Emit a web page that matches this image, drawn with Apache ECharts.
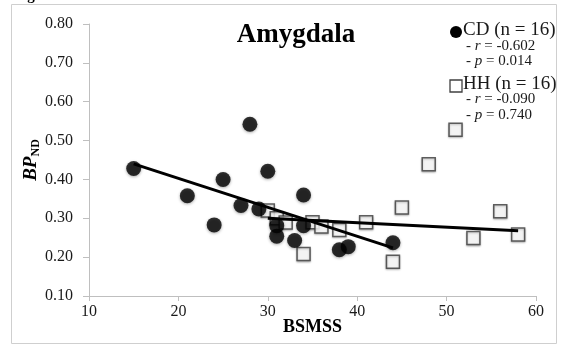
<!DOCTYPE html>
<html>
<head>
<meta charset="utf-8">
<script src="https://cdn.jsdelivr.net/npm/echarts@6/dist/echarts.min.js"></script>
<style>
  html, body { margin: 0; padding: 0; background: #fff; }
  #chart { width: 563px; height: 352px; }
</style>
</head>
<body>
<div id="chart"></div>
<script>
// CD group (filled circles): [BSMSS, BPnd]
var cdPoints = [
    [15, 0.428], [21, 0.358], [24, 0.283], [25, 0.40], [27, 0.333], [28, 0.542],
    [29, 0.324], [30, 0.421], [31, 0.281], [31, 0.254], [33, 0.243], [34, 0.36],
    [34, 0.281], [38, 0.219], [39, 0.227], [44, 0.237]
];
// HH group (open squares)
var hhPoints = [
    [30, 0.32], [31, 0.30], [32, 0.289], [34, 0.208], [35, 0.29], [36, 0.279],
    [38, 0.27], [41, 0.29], [44, 0.188], [45, 0.328], [48, 0.439], [51, 0.528],
    [53, 0.249], [56, 0.318], [58, 0.258]
];
// trend line ends
var cdTrend = [[15, 0.44], [44, 0.224]];
var hhTrend = [[30, 0.30], [58, 0.268]];

var xTicks = [10, 20, 30, 40, 50, 60];
var yTicks = [0.10, 0.20, 0.30, 0.40, 0.50, 0.60, 0.70, 0.80];

var cdStats = ['- {i|r} = -0.602', '- {i|p} = 0.014'];
var hhStats = ['- {i|r} = -0.090', '- {i|p} = 0.740'];

var serif = '"Liberation Serif", "DejaVu Serif", serif';
var axisGray = '#bfbfbf';
var textCol = '#1a1a1a';

var chart = echarts.init(document.getElementById('chart'));

function statText(str, top) {
    return {
        type: 'text', left: 466, top: top,
        style: {
            text: str, fontFamily: serif, fontSize: 15, fill: textCol,
            rich: { i: { fontStyle: 'italic', fontFamily: serif, fontSize: 15, fill: textCol } }
        }
    };
}

var option = {
    backgroundColor: '#fff',
    animation: false,
    title: {
        text: 'Amygdala',
        left: 291, top: 17, textAlign: 'center',
        textStyle: { fontFamily: serif, fontWeight: 'bold', fontSize: 27, color: '#000' }
    },
    grid: { left: 89, right: 27, top: 24, bottom: 56 },
    xAxis: {
        type: 'value', min: xTicks[0], max: xTicks[xTicks.length - 1], interval: 10,
        name: 'BSMSS', nameLocation: 'middle', nameGap: 22, nameMoveOverlap: false,
        nameTextStyle: { fontFamily: serif, fontWeight: 'bold', fontSize: 18, color: '#000' },
        axisLine: { show: true, lineStyle: { color: axisGray } },
        axisTick: { show: true, length: 5, lineStyle: { color: axisGray } },
        axisLabel: { fontFamily: serif, fontSize: 16, color: textCol, margin: 8 },
        splitLine: { show: false }
    },
    yAxis: {
        type: 'value', min: yTicks[0], max: yTicks[yTicks.length - 1], interval: 0.1,
        name: '{a|BP}{b|ND}', nameLocation: 'middle', nameGap: 47, nameMoveOverlap: false,
        nameTextStyle: {
            rich: {
                a: { fontFamily: serif, fontStyle: 'italic', fontWeight: 'bold', fontSize: 19, color: '#000' },
                b: { fontFamily: serif, fontWeight: 'bold', fontSize: 12, color: '#000', padding: [9, 0, 0, 0] }
            }
        },
        axisLine: { show: true, lineStyle: { color: axisGray } },
        axisTick: { show: true, inside: false, length: 6, lineStyle: { color: axisGray } },
        axisLabel: {
            fontFamily: serif, fontSize: 16, color: textCol, margin: 16,
            formatter: function (v) { return v.toFixed(2); }
        },
        splitLine: { show: false }
    },
    graphic: [
        { type: 'rect', shape: { x: 11.5, y: 4.5, width: 545, height: 339 },
          style: { fill: 'none', stroke: '#cfcfcf', lineWidth: 1 }, z: -1 },
        { type: 'text', left: 14, top: -11,
          style: { text: 'Figure 3', fontFamily: serif, fontWeight: 'bold', fontSize: 15, fill: '#000' } },
        { type: 'circle', shape: { cx: 456, cy: 32, r: 6 }, style: { fill: '#000' } },
        { type: 'text', left: 463, top: 21,
          style: { text: 'CD (n = 16)', fontFamily: serif, fontSize: 19, fill: textCol } },
        statText(cdStats[0], 39),
        statText(cdStats[1], 54),
        { type: 'rect', shape: { x: 450, y: 80, width: 12, height: 12 },
          style: { fill: '#fff', stroke: '#404040', lineWidth: 1.3 } },
        { type: 'text', left: 463, top: 75,
          style: { text: 'HH (n = 16)', fontFamily: serif, fontSize: 19, fill: textCol } },
        statText(hhStats[0], 92),
        statText(hhStats[1], 108)
    ],
    series: [
        {
            name: 'HH', type: 'scatter', data: hhPoints, symbol: 'rect', symbolSize: 13, z: 2,
            itemStyle: { color: '#fff', borderColor: '#3a3a3a', borderWidth: 1.5,
                         shadowBlur: 2, shadowColor: 'rgba(0,0,0,0.3)', shadowOffsetY: 1 }
        },
        {
            name: 'HH fit', type: 'line', data: hhTrend, symbol: 'none', z: 3,
            lineStyle: { color: '#000', width: 3 }
        },
        {
            name: 'CD', type: 'scatter', data: cdPoints, symbol: 'circle', symbolSize: 15, z: 4,
            itemStyle: { color: '#000', shadowBlur: 3, shadowColor: 'rgba(0,0,0,0.4)', shadowOffsetY: 1 }
        },
        {
            name: 'CD fit', type: 'line', data: cdTrend, symbol: 'none', z: 5,
            lineStyle: { color: '#000', width: 3 }
        }
    ]
};

chart.setOption(option);
</script>
</body>
</html>
